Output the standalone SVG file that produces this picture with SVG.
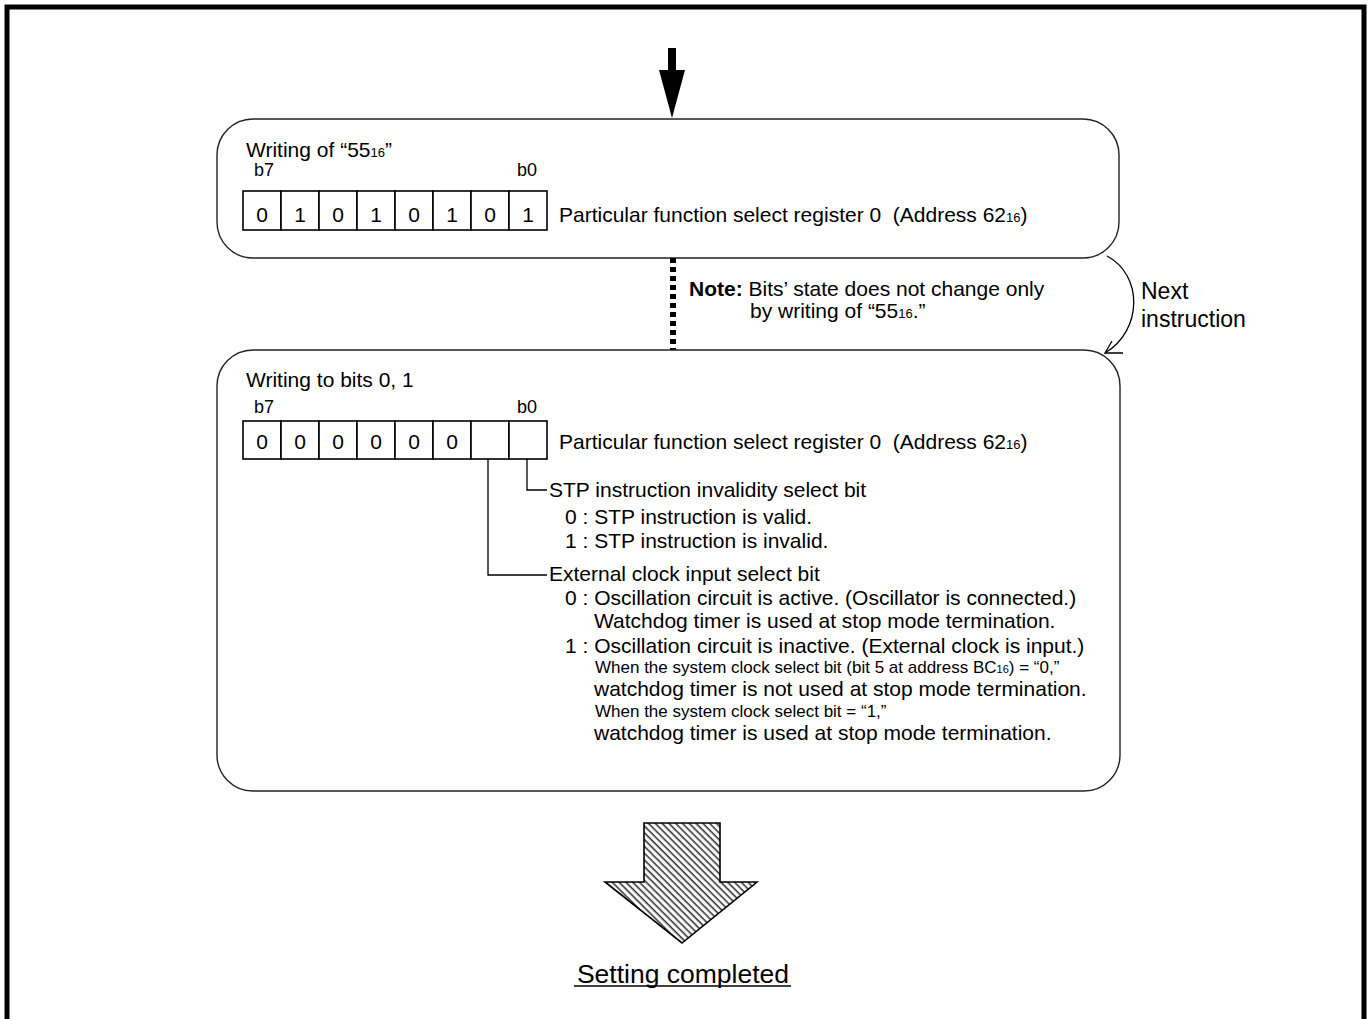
<svg xmlns="http://www.w3.org/2000/svg" width="1369" height="1019" viewBox="0 0 1369 1019">
<style>
text{font-family:"Liberation Sans",Arial,sans-serif;fill:#000}
.t{font-size:21px}
.s{font-size:17px}
.b{font-size:18px}
.d{font-size:21px;text-anchor:middle}
.box{fill:#fff;stroke:#222;stroke-width:1.4}
.cell{fill:#fff;stroke:#000;stroke-width:1.6}
.ln{fill:none;stroke:#000;stroke-width:1.3}
</style>
<defs>
<pattern id="hatch" patternUnits="userSpaceOnUse" width="4.8" height="4.8" patternTransform="rotate(-45)">
<rect width="4.8" height="4.8" fill="#fff"/>
<line x1="1.2" y1="0" x2="1.2" y2="4.8" stroke="#333" stroke-width="1.6"/>
</pattern>
</defs>
<rect width="1369" height="1019" fill="#fff"/>
<path d="M7,1019 V7 H1364 V1019" fill="none" stroke="#000" stroke-width="5"/>

<g id="start-arrow">
<rect x="668" y="48" width="8" height="23" fill="#000"/>
<polygon points="659,70 685,70 672,118" fill="#000"/>
</g>

<g id="box1">
<rect class="box" x="217" y="119" width="902" height="139" rx="36" ry="36"/>
<text class="t" x="246" y="157">Writing of “55<tspan font-size="13">16</tspan>”</text>
<text class="b" x="254" y="176">b7</text>
<text class="b" x="517" y="176">b0</text>
<g>
<rect class="cell" x="243" y="191" width="38" height="39"/>
<rect class="cell" x="281" y="191" width="38" height="39"/>
<rect class="cell" x="319" y="191" width="38" height="39"/>
<rect class="cell" x="357" y="191" width="38" height="39"/>
<rect class="cell" x="395" y="191" width="38" height="39"/>
<rect class="cell" x="433" y="191" width="38" height="39"/>
<rect class="cell" x="471" y="191" width="38" height="39"/>
<rect class="cell" x="509" y="191" width="38" height="39"/>
<text class="d" x="262" y="222">0</text>
<text class="d" x="300" y="222">1</text>
<text class="d" x="338" y="222">0</text>
<text class="d" x="376" y="222">1</text>
<text class="d" x="414" y="222">0</text>
<text class="d" x="452" y="222">1</text>
<text class="d" x="490" y="222">0</text>
<text class="d" x="528" y="222">1</text>
</g>
<text class="t" x="559" y="222" xml:space="preserve">Particular function select register 0  (Address 62<tspan font-size="13">16</tspan>)</text>
</g>

<g id="connectors">
<line x1="673" y1="258" x2="673" y2="350" stroke="#000" stroke-width="6" stroke-dasharray="5 4"/>
<path class="ln" d="M1107,256 C1143,275 1143,330 1105,353" stroke-width="1.6"/>
<path class="ln" d="M1112,341 L1105,353 L1123,353" stroke-width="1.6"/>
</g>

<g id="note">
<text class="t" x="689" y="296"><tspan font-weight="bold">Note:</tspan> Bits’ state does not change only</text>
<text class="t" x="750" y="318">by writing of “55<tspan font-size="13">16</tspan>.”</text>
</g>

<g id="next-label">
<text x="1141" y="299" font-size="23">Next</text>
<text x="1141" y="327" font-size="23">instruction</text>
</g>

<g id="box2">
<rect class="box" x="217" y="350" width="903" height="441" rx="36" ry="36"/>
<text class="t" x="246" y="387">Writing to bits 0, 1</text>
<text class="b" x="254" y="413">b7</text>
<text class="b" x="517" y="413">b0</text>
<g>
<rect class="cell" x="243" y="421" width="38" height="38"/>
<rect class="cell" x="281" y="421" width="38" height="38"/>
<rect class="cell" x="319" y="421" width="38" height="38"/>
<rect class="cell" x="357" y="421" width="38" height="38"/>
<rect class="cell" x="395" y="421" width="38" height="38"/>
<rect class="cell" x="433" y="421" width="38" height="38"/>
<rect class="cell" x="471" y="421" width="38" height="38"/>
<rect class="cell" x="509" y="421" width="38" height="38"/>
<text class="d" x="262" y="449">0</text>
<text class="d" x="300" y="449">0</text>
<text class="d" x="338" y="449">0</text>
<text class="d" x="376" y="449">0</text>
<text class="d" x="414" y="449">0</text>
<text class="d" x="452" y="449">0</text>
</g>
<text class="t" x="559" y="449" xml:space="preserve">Particular function select register 0  (Address 62<tspan font-size="13">16</tspan>)</text>
<path class="ln" d="M527,459 V490 H547"/>
<path class="ln" d="M488,459 V575 H547"/>
<text class="t" x="549" y="497">STP instruction invalidity select bit</text>
<text class="t" x="565" y="524">0 : STP instruction is valid.</text>
<text class="t" x="565" y="548">1 : STP instruction is invalid.</text>
<text class="t" x="549" y="581">External clock input select bit</text>
<text class="t" x="565" y="605">0 : Oscillation circuit is active. (Oscillator is connected.)</text>
<text class="t" x="594" y="628">Watchdog timer is used at stop mode termination.</text>
<text class="t" x="565" y="653">1 : Oscillation circuit is inactive. (External clock is input.)</text>
<text class="s" x="595" y="673">When the system clock select bit (bit 5 at address BC<tspan font-size="11">16</tspan>) = “0,”</text>
<text class="t" x="594" y="696">watchdog timer is not used at stop mode termination.</text>
<text class="s" x="595" y="717">When the system clock select bit = “1,”</text>
<text class="t" x="594" y="740">watchdog timer is used at stop mode termination.</text>
</g>

<g id="end-arrow">
<polygon points="644,823 720,823 720,882 757,882 682,943 605,882 644,882" fill="url(#hatch)" stroke="#000" stroke-width="1.6"/>
<text x="683" y="983" font-size="26.5" text-anchor="middle">Setting completed</text>
<line x1="574" y1="986" x2="791" y2="986" stroke="#000" stroke-width="1.5"/>
</g>
</svg>
